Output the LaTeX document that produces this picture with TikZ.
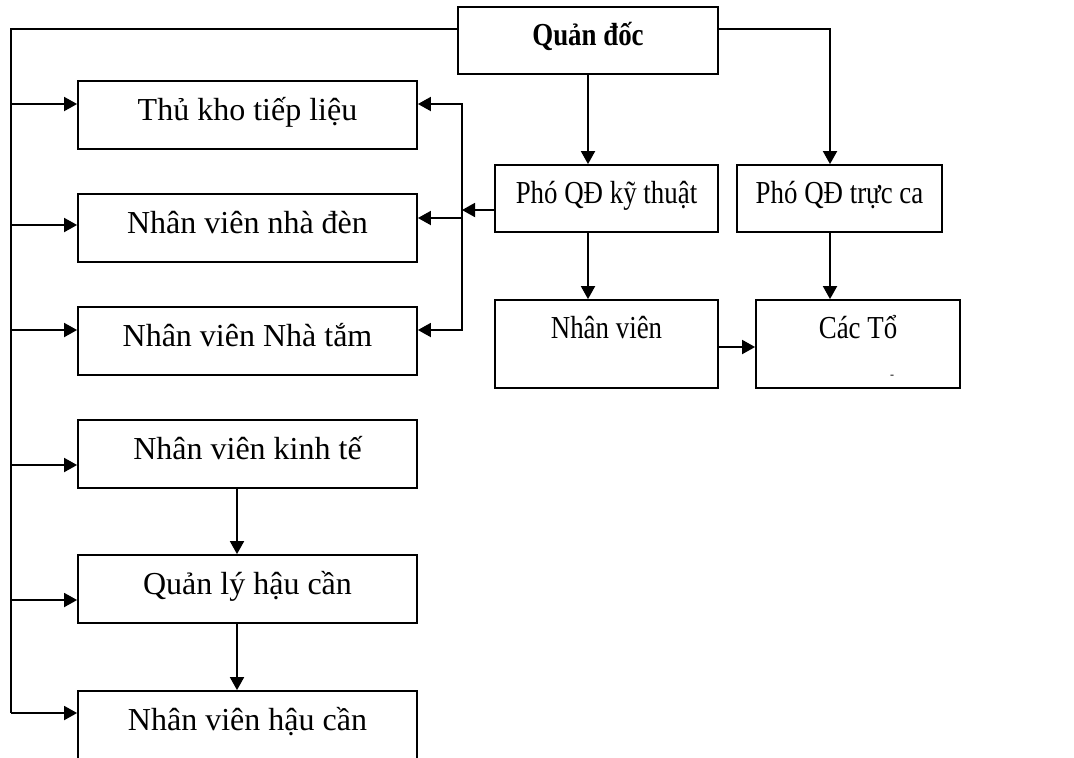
\documentclass[tikz,border=0pt]{standalone}
\usepackage{fontspec}
\setmainfont{Liberation Serif}
\newfontfamily\narrowfont[FakeStretch=0.84]{Liberation Serif}
\usetikzlibrary{arrows.meta}

\begin{document}
\begin{tikzpicture}[x=0.5pt,y=-0.5pt,>={Triangle[length=6.5pt,width=7pt]},line width=0.9pt,
  box/.style={draw,rectangle,inner sep=0pt,text height=11pt,text depth=6pt,font=\fontsize{16}{19}\selectfont,minimum width=169.5pt,minimum height=34pt},
  small box/.style={box,font=\narrowfont\fontsize{16}{19}\selectfont,minimum height=33.5pt},
  tall box/.style={small box,text depth=17pt,minimum height=44pt}]

  \useasboundingbox (0,0) rectangle (1074,757);

  % right part
  \node[small box,font=\narrowfont\fontsize{16}{19}\selectfont\bfseries,minimum width=130pt] (1) at (588,40.5) {Quản đốc};
  \node[small box,minimum width=111.5pt] (2) at (606.5,198.5) {Phó QĐ kỹ thuật};
  \node[small box,minimum width=102.5pt] (3) at (839.5,198.5) {Phó QĐ trực ca};
  \node[tall box,minimum width=111.5pt] (4) at (606.5,344) {Nhân viên};
  \node[tall box,minimum width=102pt] (5) at (858,344) {Các Tổ};
  \node[font=\fontsize{6}{7}\selectfont,inner sep=0pt] (d) at (892,377) {-};

  % left column
  \node[box] (6) at (247.5,115) {Thủ kho tiếp liệu};
  \node[box] (7) at (247.5,228) {Nhân viên nhà đèn};
  \node[box] (8) at (247.5,341) {Nhân viên Nhà tắm};
  \node[box] (9) at (247.5,454) {Nhân viên kinh tế};
  \node[box] (10) at (247.5,589) {Quản lý hậu cần};
  \node[box] (11) at (247.5,725) {Nhân viên hậu cần};

  \coordinate (t) at (11,29);
  \coordinate (r) at (830,29);
  \coordinate (k) at (462,210);
  \coordinate (k1) at (462,104);
  \coordinate (k2) at (462,218);
  \coordinate (k3) at (462,330);

  \draw (1.west |- t) -- (t) -- (11,713);
  \foreach \n/\y in {6/104,7/225,8/330,9/465,10/600,11/713}{
    \coordinate (b\n) at (11,\y);
    \draw[->] (b\n) -- (b\n -| \n.west);
  }

  \draw[->] (1.east |- r) -- (r) -- (r |- 3.north);
  \draw[->] (1.south) -- (1.south |- 2.north);
  \draw[->] (2.south -| 1.south) -- (1.south |- 4.north);
  \draw[->] (3.south -| r) -- (r |- 5.north);
  \draw[->] ([yshift=-1.5pt]4.east) -- ([yshift=-1.5pt]5.west);

  \draw[->] (2.west |- k) -- (k);
  \draw[<->] (k1 -| 6.east) -- (k1) -- (k3) -- (k3 -| 8.east);
  \draw[->] (k2) -- (k2 -| 7.east);

  \draw[->] ([xshift=-5.25pt]9.south) -- ([xshift=-5.25pt]10.north);
  \draw[->] ([xshift=-5.25pt]10.south) -- ([xshift=-5.25pt]11.north);
\end{tikzpicture}
\end{document}
